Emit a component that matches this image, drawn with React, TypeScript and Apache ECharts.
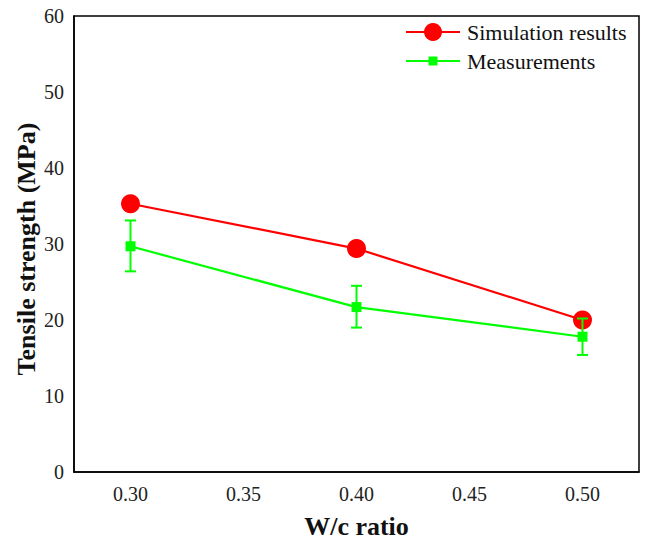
import { useEffect, useRef } from "react";
import * as echarts from "echarts";

const wcRatios = [0.3, 0.4, 0.5];
const simulation = [35.3, 29.4, 20.0];
const measured = [29.7, 21.7, 17.8];
const measuredLow = [26.4, 19.0, 15.4];
const measuredHigh = [33.1, 24.5, 20.2];
const xTicks = [0.3, 0.35, 0.4, 0.45, 0.5];
const yTicks = [0, 10, 20, 30, 40, 50, 60];
const seriesNames = ["Simulation results", "Measurements"];
const xTitle = "W/c ratio";
const yTitle = "Tensile strength (MPa)";

const RED = "#ff0000";
const GREEN = "#00ff00";
const FONT = "Liberation Serif";

export default function App() {
  const ref = useRef<HTMLDivElement>(null);

  useEffect(() => {
    document.body.style.margin = "0";
    if (!ref.current) return;
    const chart = echarts.init(ref.current, null, { renderer: "svg" });

    chart.setOption({
      animation: false,
      grid: {
        left: 74,
        top: 16,
        width: 565,
        height: 456,
        outerBoundsMode: "none",
        show: true,
        borderColor: "#000",
        borderWidth: 1.5,
      },
      xAxis: {
        type: "value",
        min: 0.275,
        max: 0.525,
        axisLine: { lineStyle: { color: "#000", width: 1.5 } },
        axisTick: { show: false },
        splitLine: { show: false },
        axisLabel: { show: false },
      },
      yAxis: {
        type: "value",
        min: 0,
        max: 60,
        interval: 10,
        axisLine: { lineStyle: { color: "#000", width: 1.5 } },
        axisTick: { show: false },
        splitLine: { show: false },
        axisLabel: { show: false },
      },
      series: [
        {
          name: seriesNames[0],
          type: "line",
          data: wcRatios.map((x, i) => [x, simulation[i]]),
          symbol: "circle",
          symbolSize: 19,
          itemStyle: { color: RED },
          lineStyle: { color: RED, width: 2.2 },
          z: 3,
        },
        {
          name: seriesNames[1],
          type: "line",
          data: wcRatios.map((x, i) => [x, measured[i]]),
          symbol: "rect",
          symbolSize: 10,
          itemStyle: { color: GREEN },
          lineStyle: { color: GREEN, width: 2.2 },
          z: 4,
        },
        {
          name: seriesNames[1],
          type: "custom",
          data: wcRatios.map((x, i) => [x, measuredLow[i], measuredHigh[i]]),
          z: 5,
          renderItem: (_params: any, api: any) => {
            const x = api.value(0);
            const lo = api.coord([x, api.value(1)]);
            const hi = api.coord([x, api.value(2)]);
            const hw = 5.5;
            const style = { stroke: GREEN, lineWidth: 2 };
            return {
              type: "group",
              children: [
                { type: "line", shape: { x1: lo[0], y1: lo[1], x2: hi[0], y2: hi[1] }, style },
                { type: "line", shape: { x1: lo[0] - hw, y1: lo[1], x2: lo[0] + hw, y2: lo[1] }, style },
                { type: "line", shape: { x1: hi[0] - hw, y1: hi[1], x2: hi[0] + hw, y2: hi[1] }, style },
              ],
            };
          },
        },
      ],
    });

    // tick labels and titles placed from the axes' scales, so the
    // off-centre y title and label offsets can follow the picture
    const px = (v: number) => chart.convertToPixel({ xAxisIndex: 0 }, v) as number;
    const py = (v: number) => chart.convertToPixel({ yAxisIndex: 0 }, v) as number;
    const left = px(0.275);
    const right = px(0.525);
    const bottom = py(0);
    const top = py(60);

    const tick = { fontSize: 20, fontFamily: FONT, fill: "#222" };
    const title = { fontSize: 26, fontWeight: "bold", fontFamily: FONT, fill: "#111" };
    const legendText = { fontSize: 22, fontFamily: FONT, fill: "#111", verticalAlign: "middle" };

    const graphics: any[] = [
      ...xTicks.map((v) => ({
        type: "text",
        x: px(v),
        y: bottom + 22,
        style: { ...tick, text: v.toFixed(2), align: "center", verticalAlign: "middle" },
      })),
      ...yTicks.map((v) => ({
        type: "text",
        x: left - 10,
        y: py(v),
        style: { ...tick, text: String(v), align: "right", verticalAlign: "middle" },
      })),
      {
        type: "text",
        x: (left + right) / 2,
        y: bottom + 54,
        style: { ...title, text: xTitle, align: "center", verticalAlign: "middle" },
      },
      {
        type: "text",
        x: 26,
        y: (top + bottom) / 2 + 5,
        rotation: Math.PI / 2,
        style: { ...title, text: yTitle, align: "center", verticalAlign: "middle" },
      },
      // legend drawn by hand so the marker sizes follow the picture
      { type: "line", shape: { x1: 406, y1: 32, x2: 460, y2: 32 }, style: { stroke: RED, lineWidth: 2 } },
      { type: "circle", shape: { cx: 433, cy: 32, r: 9 }, style: { fill: RED } },
      { type: "text", x: 467, y: 32, style: { ...legendText, text: seriesNames[0] } },
      { type: "line", shape: { x1: 406, y1: 61, x2: 460, y2: 61 }, style: { stroke: GREEN, lineWidth: 2 } },
      { type: "rect", shape: { x: 428.5, y: 56.5, width: 9, height: 9 }, style: { fill: GREEN } },
      { type: "text", x: 467, y: 61, style: { ...legendText, text: seriesNames[1] } },
    ];

    chart.setOption({ graphic: graphics });

    return () => chart.dispose();
  }, []);

  return <div ref={ref} style={{ width: 649, height: 541 }} />;
}
